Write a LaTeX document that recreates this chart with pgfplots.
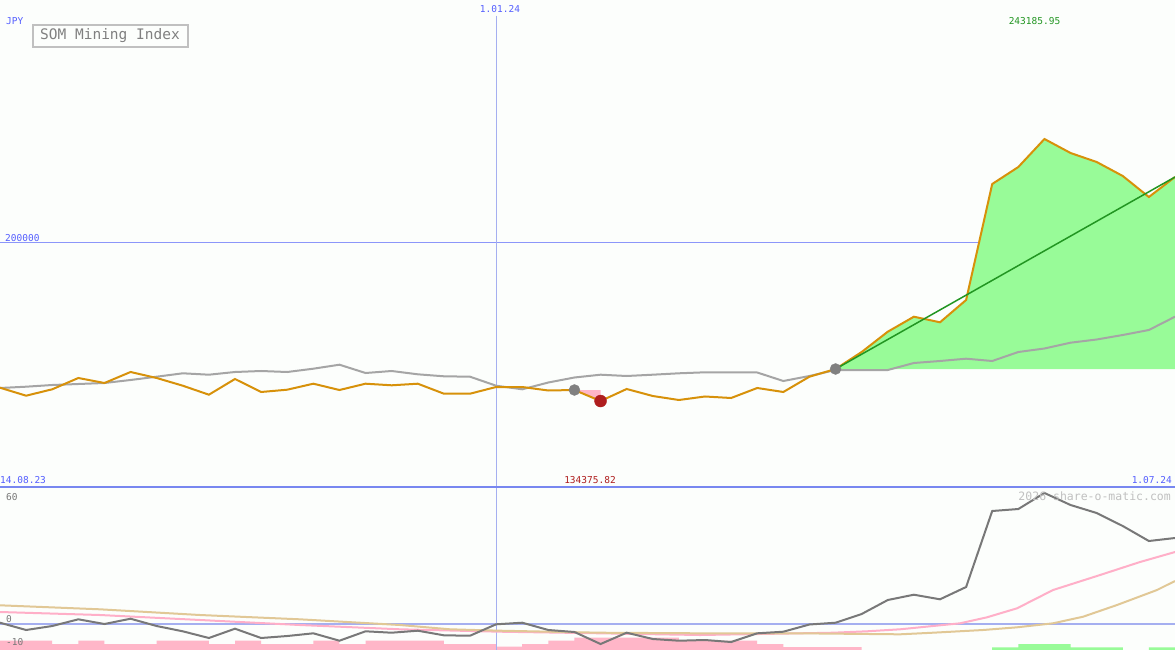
\documentclass[border=0pt]{standalone}
\usepackage{fontspec}
\setmonofont{DejaVu Sans Mono}
\usepackage{pgfplots}
\pgfplotsset{compat=1.18}
\definecolor{bg}{RGB}{252,254,252}
\definecolor{lblue}{RGB}{85,95,255}
\definecolor{gridblue}{RGB}{140,150,250}
\definecolor{vblue}{RGB}{165,175,240}
\definecolor{sepblue}{RGB}{120,135,240}
\definecolor{orangeline}{RGB}{215,145,10}
\definecolor{grayline}{RGB}{165,165,165}
\definecolor{greenfill}{RGB}{152,251,152}
\definecolor{trendgreen}{RGB}{34,150,34}
\definecolor{reddot}{RGB}{175,30,30}
\definecolor{graydot}{RGB}{128,128,128}
\definecolor{pinkfill}{RGB}{255,182,200}
\definecolor{momline}{RGB}{120,120,120}
\definecolor{tanline}{RGB}{225,200,150}
\definecolor{pinkline}{RGB}{255,175,200}
\definecolor{boxgray}{RGB}{192,192,192}
\definecolor{titlegray}{RGB}{128,128,128}
\begin{document}
\begin{tikzpicture}
\fill[bg] (0,0) rectangle (1175pt,-650pt);
\useasboundingbox (0,0) rectangle (1175pt,-650pt);
% ---------------- upper panel ----------------
\begin{axis}[at={(0pt,0pt)}, anchor=north west, width=1175pt, height=487pt, scale only axis,
  xmin=0, xmax=45, ymin=98679, ymax=300906, axis lines=none]
\draw[gridblue, line width=1pt] (axis cs:0,200000) -- (axis cs:45,200000);
\draw[vblue, line width=1pt] (axis cs:19,294262) -- (axis cs:19,98679);
% green fill (gain area)
\addplot[fill=greenfill, draw=none] coordinates {
(32,147678)(33,154738)(34,163167)(35,169396)(36,167071)(37,176331)(38,224500)(39,231559)
(40,243186)(41,237373)(42,233635)(43,227822)(44,219102)(45,227407)(45,147678)} -- cycle;
% pink drawdown
\addplot[fill=pinkfill, draw=none] coordinates {(22,138958)(23,138958)(23,134376)} -- cycle;
% benchmark gray line
\addplot[grayline, line width=2pt] coordinates {
(0,139789)(1,140329)(2,141034)(3,141449)(4,141865)(5,143111)(6,144481)(7,145893)(8,145312)
(9,146433)(10,146848)(11,146433)(12,147803)(13,149464)(14,146017)(15,146848)(16,145478)
(17,144647)(18,144481)(19,140744)(20,139249)(21,142073)(22,144149)(23,145312)(24,144772)
(25,145312)(26,145893)(27,146308)(28,146308)(29,146225)(30,142695)(31,144772)(32,147263)
(33,147263)(34,147263)(35,150170)(36,151000)(37,151956)(38,151000)(39,154738)(40,156191)
(41,158600)(42,159928)(43,161797)(44,163873)(45,169396)};
% index orange line
\addplot[orangeline, line width=2pt] coordinates {
(0,139913)(1,136591)(2,139249)(3,143941)(4,141865)(5,146433)(6,143941)(7,140744)(8,137007)
(9,143526)(10,138128)(11,139083)(12,141574)(13,138958)(14,141574)(15,140910)(16,141574)
(17,137422)(18,137422)(19,140204)(20,140204)(21,138751)(22,138958)(23,134376)(24,139373)
(25,136467)(26,134806)(27,136259)(28,135636)(29,139789)(30,138128)(31,144481)(32,147678)
(33,154738)(34,163167)(35,169396)(36,167071)(37,176331)(38,224500)(39,231559)(40,243186)
(41,237373)(42,233635)(43,227822)(44,219102)(45,227407)};
% trend line
\addplot[trendgreen, line width=1.5pt] coordinates {(32,147678)(45,227407)};
% dots
\addplot[only marks, mark=*, mark size=5.5pt, mark options={fill=graydot, draw=graydot}] coordinates {(22,138958)(32,147678)};
\addplot[only marks, mark=*, mark size=6pt, mark options={fill=reddot, draw=reddot}] coordinates {(23,134376)};
\end{axis}
% ---------------- lower panel: bars ----------------
\begin{axis}[at={(0pt,-487pt)}, anchor=north west, width=1175pt, height=163pt, scale only axis,
  xmin=0, xmax=45, ymin=0, ymax=163, axis lines=none]
\addplot[const plot, fill=pinkfill, draw=none] coordinates {
(0,9.3)(2,6)(3,9.3)(4,6)(6,9.3)(8,6)(9,9.3)(10,6)(12,9.3)(13,6)(14,9.3)(17,6)(19,3.3)(20,6)
(21,9.3)(22,12.3)(26,9.3)(29,6)(30,3)(33,3)} \closedcycle;
\addplot[const plot, fill=greenfill, draw=none] coordinates {
(38,2.7)(39,6)(41,2.7)(43,0)(44,2.7)(45,2.7)} \closedcycle;
\end{axis}
% ---------------- lower panel: lines ----------------
\begin{axis}[at={(0pt,-487pt)}, anchor=north west, width=1175pt, height=163pt, scale only axis,
  xmin=0, xmax=45, ymin=-12.19, ymax=64.23, axis lines=none]
\draw[vblue, line width=1pt] (axis cs:19,64.23) -- (axis cs:19,-12.19);
\draw[vblue, line width=2pt] (axis cs:0,0) -- (axis cs:45,0);
\addplot[pinkline, line width=2pt] coordinates {
(0,5.63)(3.83,4.22)(7.66,1.88)(11.49,-0.47)(15.32,-2.48)(19.15,-3.61)(22.98,-4.36)(26.81,-5.16)
(30.64,-4.36)(31.9,-4.08)(33.2,-3.42)(34.47,-2.48)(35.73,-0.94)(36.77,0.33)(37.8,3.14)
(38.95,7.36)(40.33,15.94)(42.13,22.97)(43.66,29.07)(45,33.75)};
\addplot[tanline, line width=2pt] coordinates {
(0,8.77)(3.83,6.89)(7.66,4.22)(11.49,2.20)(15.32,-0.47)(17.23,-2.48)(19.15,-3.14)(22.98,-4.08)
(26.81,-4.36)(30.64,-4.36)(34.47,-4.83)(35.73,-4.08)(37.65,-2.81)(38.95,-1.55)(40.33,0.33)
(41.48,3.42)(42.78,8.91)(44.31,15.94)(45,20.16)};
\addplot[momline, line width=2pt] coordinates {
(0,0.61)(1,-2.81)(2,-0.94)(3,2.20)(4,0)(5,2.48)(6,-0.94)(7,-3.42)(8,-6.56)(9,-2.20)(10,-6.56)
(11,-5.63)(12,-4.36)(13,-7.83)(14,-3.42)(15,-4.08)(16,-3.14)(17,-5.30)(18,-5.49)(19,-0.14)
(20,0.61)(21,-2.81)(22,-3.75)(23,-9.38)(24,-4.08)(25,-7.03)(26,-7.83)(27,-7.50)(28,-8.44)
(29,-4.36)(30,-3.61)(31,-0.23)(32,0.61)(33,4.69)(34,11.25)(35,13.74)(36,11.58)(37,17.35)
(38,52.98)(39,53.91)(40,61.42)(41,55.79)(42,52.04)(43,45.94)(44,38.91)(45,40.32)};
\end{axis}
\draw[sepblue, line width=2pt] (0,-486.5pt) -- (1175pt,-486.5pt);
% ---------------- texts ----------------
\begin{scope}[every node/.style={inner sep=0pt, font=\ttfamily\fontsize{9.5}{10}\selectfont}]
\node[anchor=base west, text=lblue] at (6pt,-25pt) {JPY};
\node[draw=boxgray, line width=2pt, minimum width=155pt, minimum height=22pt, text=titlegray,
  font=\ttfamily\fontsize{14.5}{15}\selectfont] at (110pt,-36pt) {SOM Mining Index};
\node[anchor=base, text=lblue] at (500pt,-13pt) {1.01.24};
\node[anchor=base, text=trendgreen] at (1034.5pt,-25pt) {243185.95};
\node[anchor=base west, text=lblue] at (5pt,-241pt) {200000};
\node[anchor=base west, text=lblue] at (0pt,-483pt) {14.08.23};
\node[anchor=base, text=reddot] at (590pt,-483pt) {134375.82};
\node[anchor=base east, text=lblue] at (1172pt,-483pt) {1.07.24};
\node[anchor=base east, text=boxgray, font=\ttfamily\fontsize{11.5}{12}\selectfont] at (1171pt,-500pt) {2026 share-o-matic.com};
\node[anchor=base west, text=momline] at (6pt,-500pt) {60};
\node[anchor=base west, text=momline] at (6pt,-622pt) {0};
\node[anchor=base west, text=momline] at (6pt,-645pt) {-10};
\end{scope}
\end{tikzpicture}
\end{document}
